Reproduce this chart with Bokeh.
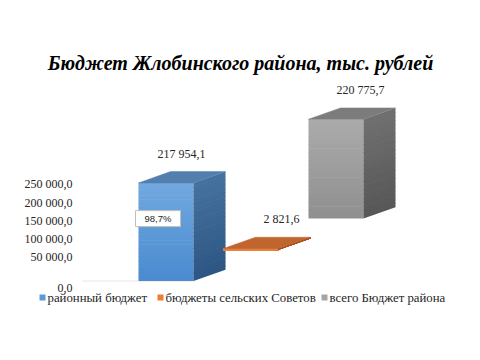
from bokeh.plotting import figure
from bokeh.models import Range1d
from bokeh.core.properties import value
from bokeh.embed import file_html
from bokeh.resources import INLINE

# ---------------- data ----------------
title_text = "Бюджет Жлобинского района, тыс. рублей"
categories = ["районный бюджет", "бюджеты сельских Советов", "всего Бюджет района"]
values = [217954.1, 2821.6, 220775.7]
tick_values = [0, 50000, 100000, 150000, 200000, 250000]


def fmt(v):
    return f"{v:,.1f}".replace(",", " ").replace(".", ",")


value_labels = [fmt(v) for v in values]
tick_labels = [fmt(v) for v in tick_values]
share_label = f"{values[0] / values[2] * 100:.1f}%".replace(".", ",")

# ---------------- styles / layout ----------------
W, H = 464, 344
SERIF = value("Liberation Serif")
SANS = value("Liberation Sans")
KY = 2222.0           # value units per screen pixel for the bars
BASE_IMG = 280.5      # screen y of the first bar's floor
legend_colors = ["#5B9BD5", "#ED7D31", "#A5A5A5"]
front_top = ["#71A9DF", "#E8823F", "#ABABAB"]
front_bot = ["#4A8AD0", "#E8823F", "#8F8F8F"]
side_top = ["#46729F", "#B55A25", "#707070"]
side_bot = ["#2C5583", "#A04F20", "#565656"]
top_col = ["#527FAE", "#C0652E", "#7C7C7C"]

BAR_W = 55
DX, DY = 32, 11.3     # depth offset in pixels
STEP_X, STEP_Y = 85, 31.2
LEFT0 = 138


def yv(img_y):
    return (BASE_IMG - img_y) * KY


p = figure(width=W, height=H, output_backend="svg", toolbar_location=None,
           x_range=Range1d(0, W), y_range=Range1d(yv(H), yv(0)),
           x_axis_location=None, y_axis_location=None, min_border=0)
p.outline_line_color = None
p.xgrid.visible = False
p.ygrid.visible = False

# axis scale for tick labels (separate from bar depth projection)
AX_ZERO_IMG, AX_PX_PER_50K = 275.0, 18.25
ak = 50000 / AX_PX_PER_50K
p.extra_y_ranges = {"axis": Range1d(-(H - AX_ZERO_IMG) * ak, AX_ZERO_IMG * ak)}


def lerp(c1, c2, t):
    a = [int(c1[i:i + 2], 16) for i in (1, 3, 5)]
    b = [int(c2[i:i + 2], 16) for i in (1, 3, 5)]
    return "#%02x%02x%02x" % tuple(round(a[k] + (b[k] - a[k]) * t) for k in range(3))


# floor line
p.segment(x0=[82], y0=[0], x1=[LEFT0 + BAR_W + 2], y1=[0], line_color="#E6E6E6", line_width=1)

N = 24
ov = 0.6 * KY
for i, v in enumerate(values):
    L = LEFT0 + STEP_X * i
    base = STEP_Y * i * KY
    top = base + v
    dyv = DY * KY
    xs, ys, cs = [], [], []
    sxs, sys_, scs = [], [], []
    for k in range(N):
        y0 = top - v * k / N
        y1 = max(base, top - v * (k + 1) / N - ov)
        t = (k + 0.5) / N
        xs.append([L, L + BAR_W, L + BAR_W, L])
        ys.append([y0, y0, y1, y1])
        cs.append(lerp(front_top[i], front_bot[i], t))
        sxs.append([L + BAR_W, L + BAR_W + DX, L + BAR_W + DX, L + BAR_W])
        sys_.append([y0, y0 + dyv, y1 + dyv, y1])
        scs.append(lerp(side_top[i], side_bot[i], t))
    thin = v / KY < 3
    p.patches(xs=xs, ys=ys, fill_color=cs, line_color=cs if thin else None,
              line_width=1 if thin else 0)
    p.patches(xs=sxs, ys=sys_, fill_color=scs, line_color=None)
    p.patch(x=[L, L + DX, L + BAR_W + DX, L + BAR_W],
            y=[top, top + dyv, top + dyv, top],
            fill_color=top_col[i], line_color=top_col[i], line_width=0.5)

# data labels
lab_dx = [43, 58, 52]
lab_x = [LEFT0 + STEP_X * i + lab_dx[i] for i in range(3)]
lab_y = [STEP_Y * i * KY + values[i] + (DY + 18) * KY for i in range(3)]
p.text(x=lab_x, y=lab_y, text=value_labels, text_font=SERIF,
       text_font_size="12px", text_align="center", text_baseline="middle", text_color="#262626")

# share box on first bar
bx = LEFT0 + 19.5
by = values[0] * 0.636
p.rect(x=[bx], y=[by], width=45, height=16 * KY, fill_color="white", line_color="#BFBFBF")
p.text(x=[bx], y=[by], text=[share_label], text_font=SANS,
       text_font_size="9.5px", text_align="center", text_baseline="middle", text_color="#262626")

# y tick labels
p.text(x=[72] * len(tick_values), y=tick_values, text=tick_labels, y_range_name="axis",
       y_offset=[12, 0, 0, 0, 0, 0],
       text_font=SERIF, text_font_size="12px",
       text_align="right", text_baseline="middle", text_color="#262626")

# title
p.text(x=[240], y=[yv(62)], text=[title_text], text_font=SERIF,
       text_font_style="bold italic", text_font_size="20px", text_align="center",
       text_baseline="middle", text_color="#000000")

# legend
leg_sq_x = [42, 160, 324]
leg_y = yv(297)
p.scatter(x=leg_sq_x, y=[leg_y] * 3, marker="square", size=6, fill_color=legend_colors,
          line_color=None)
p.text(x=[x + 5 for x in leg_sq_x], y=[leg_y] * 3, text=categories,
       text_font=SERIF, text_font_size="12.8px", text_align="left",
       text_baseline="middle", text_color="#262626")

open("out.html", "w").write(file_html(p, INLINE))
